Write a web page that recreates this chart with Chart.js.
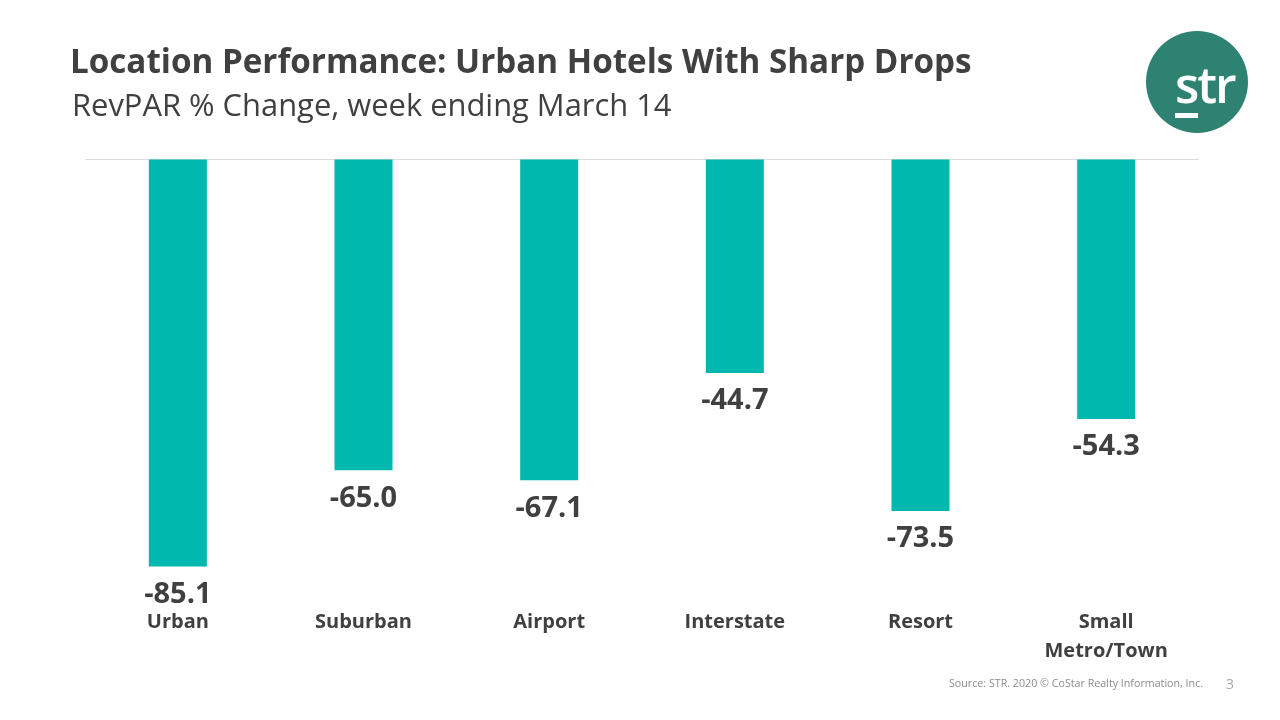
<!DOCTYPE html>
<html>
<head>
<meta charset="utf-8">
<title>Location Performance</title>
<script src="https://cdn.jsdelivr.net/npm/chart.js@4"></script>
<style>
  html, body { margin: 0; padding: 0; background: #fff; }
  #slide { position: relative; width: 1280px; height: 720px; overflow: hidden; font-family: "Open Sans", sans-serif; color: #404040; }
  #slide canvas { position: absolute; left: 0; top: 0; }
  .txt { position: absolute; white-space: nowrap; }
  #title { left: 70px; top: 40px; font-size: 33.2px; font-weight: 700; line-height: 42px; }
  #subtitle { left: 72px; top: 84px; font-size: 30.9px; line-height: 40px; }
  #source { left: 949px; top: 676px; font-size: 10.7px; line-height: 14px; color: #8c8c8c; }
  #page { left: 1226px; top: 675px; font-size: 14px; line-height: 18px; color: #a6a6a6; }
  #logo { position: absolute; left: 1146px; top: 31px; width: 102px; height: 102px; border-radius: 50%; background: #2e8271; }
  #logo span { position: absolute; left: 29px; top: 28px; font-size: 50px; line-height: 50px; font-weight: 600; color: #fff; letter-spacing: -2px; }
  #logo i { position: absolute; left: 29px; top: 82px; width: 23px; height: 5px; background: #fff; }
</style>
</head>
<body>
<div id="slide">
  <canvas id="chart" width="1280" height="720"></canvas>
  <div class="txt" id="title">Location Performance: Urban Hotels With Sharp Drops</div>
  <div class="txt" id="subtitle">RevPAR % Change, week ending March 14</div>
  <div id="logo"><span>str</span><i></i></div>
  <div class="txt" id="source">Source: STR. 2020 © CoStar Realty Information, Inc.</div>
  <div class="txt" id="page">3</div>
</div>
<script>
var categories = ['Urban', 'Suburban', 'Airport', 'Interstate', 'Resort', ['Small', 'Metro/Town']];
var revparChange = [-85.1, -65.0, -67.1, -44.7, -73.5, -54.3];

var barColor = '#00b8ad';
var textColor = '#404040';

// value labels under each bar
var barLabels = {
  id: 'barLabels',
  afterDatasetsDraw: function(chart) {
    var ctx = chart.ctx;
    ctx.save();
    ctx.font = 'bold 29px "Open Sans"';
    ctx.fillStyle = textColor;
    ctx.textAlign = 'center';
    ctx.textBaseline = 'middle';
    chart.getDatasetMeta(0).data.forEach(function(bar, i) {
      ctx.fillText(revparChange[i].toFixed(1), bar.x, bar.y + 28);
    });
    ctx.restore();
  }
};

new Chart(document.getElementById('chart'), {
  type: 'bar',
  data: {
    labels: categories,
    datasets: [{
      data: revparChange,
      backgroundColor: barColor,
      categoryPercentage: 1,
      barPercentage: 0.3125
    }]
  },
  options: {
    responsive: false,
    animation: false,
    layout: { padding: { left: 85, right: 81, top: 159, bottom: 44 } },
    plugins: { legend: { display: false }, tooltip: { enabled: false } },
    scales: {
      x: {
        grid: { display: false },
        border: { display: false },
        ticks: {
          color: textColor,
          font: { family: '"Open Sans"', size: 20, weight: 'bold', lineHeight: 1.45 },
          maxRotation: 0,
          padding: 10
        }
      },
      y: {
        min: -90,
        max: 0,
        border: { display: false },
        grid: {
          drawTicks: false,
          color: function(c) { return c.tick.value === 0 ? '#dcdcdc' : 'rgba(0,0,0,0)'; }
        },
        ticks: { display: false }
      }
    }
  },
  plugins: [barLabels]
});
</script>
</body>
</html>
